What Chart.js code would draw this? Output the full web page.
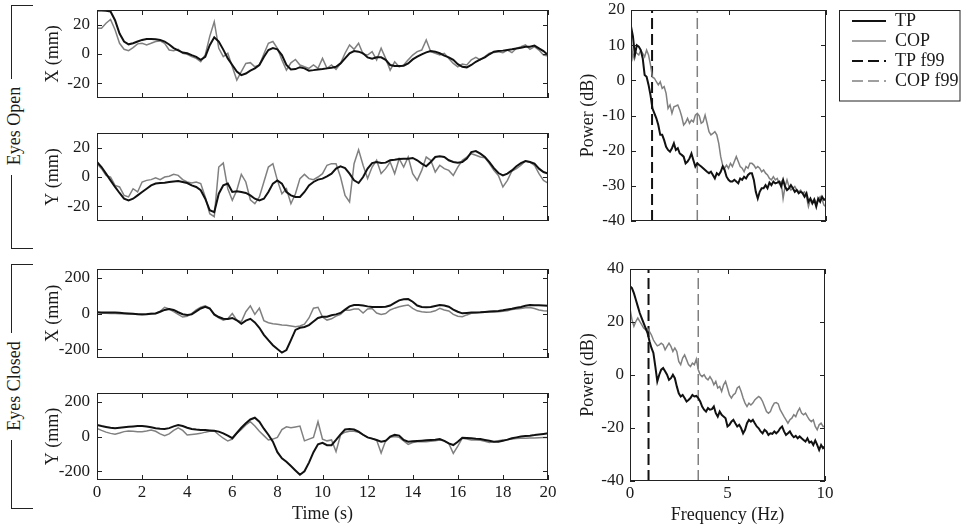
<!DOCTYPE html>
<html>
<head>
<meta charset="utf-8">
<script src="https://cdn.jsdelivr.net/npm/chart.js@4.4.1/dist/chart.umd.min.js"></script>
<style>
  body { margin: 0; background: #fff; width: 964px; height: 530px; overflow: hidden; position: relative;
         font-family: "Liberation Serif", "Times New Roman", serif; color: #1a1a1a; }
  canvas { position: absolute; }
  .br { position: absolute; border-left: 1.5px solid #222; width: 21px; }
  .lbl { position: absolute; width: 140px; height: 22px; line-height: 22px; text-align: center;
         font-size: 18px; transform: rotate(-90deg); white-space: nowrap; }
</style>
</head>
<body>
<div class="br" style="left:11px;top:5px;height:73px;border-top:1.5px solid #222"></div>
<div class="br" style="left:11px;top:175px;height:73px;border-bottom:1.5px solid #222"></div>
<div class="lbl" style="left:-56px;top:115px">Eyes Open</div>
<div class="br" style="left:11px;top:264px;height:68px;border-top:1.5px solid #222"></div>
<div class="br" style="left:11px;top:440px;height:68px;border-bottom:1.5px solid #222"></div>
<div class="lbl" style="left:-56px;top:375px">Eyes Closed</div>

<canvas id="xOpen" width="560" height="102" style="left:0;top:0"></canvas>
<canvas id="yOpen" width="560" height="102" style="left:0;top:123px"></canvas>
<canvas id="xClosed" width="560" height="103" style="left:0;top:259px"></canvas>
<canvas id="yClosed" width="560" height="144" style="left:0;top:383px"></canvas>
<canvas id="psdOpen" width="404" height="225" style="left:560px;top:0"></canvas>
<canvas id="psdClosed" width="404" height="269" style="left:560px;top:259px"></canvas>

<script>
// time axis (s), one sample every 0.2 s
const times = Array.from({ length: 101 }, (_, i) => +(i * 0.2).toFixed(1));
// frequency axis (Hz), one bin every 0.1 Hz
const freqs = Array.from({ length: 101 }, (_, i) => +(i * 0.1).toFixed(1));

const timeTicks = [0, 2, 4, 6, 8, 10, 12, 14, 16, 18, 20];
const mmTicksOpen = [-20, 0, 20];
const mmTicksClosed = [-200, 0, 200];
const freqTicks = [0, 5, 10];
const dbTicksOpen = [-40, -30, -20, -10, 0, 10, 20];
const dbTicksClosed = [-40, -20, 0, 20, 40];

// eyes open, X (mm)
const xOpenTp = [
  29.7, 29.7, 29.5, 29, 23, 14, 8.5, 6.6, 7.3, 8.5,
  9.6, 10.2, 10.3, 10, 9.6, 8.5, 6.5, 4, 2.5, 1,
  0.5, -0.8, -2, -4, -2, 6, 11.4, 8.5, 3, -3,
  -7.5, -12, -14.4, -13.3, -11.4, -9.8, -7.5, -2, 2.7, 4,
  3.2, -0.7, -7.5, -10.5, -10.3, -9, -9.8, -11.4, -11, -10.5,
  -10.3, -9.8, -9.4, -8.7, -6.4, -3, 0.5, 2, 1.6, 0.5,
  -2.3, -3.2, -2.3, -2.3, -4, -7.5, -8.2, -8.2, -8, -6.4,
  -3.7, -1.8, -0.2, 1.1, 2, 1.6, 0.5, -1.1, -2.3, -4,
  -6.9, -8.7, -9.1, -7.5, -5.3, -3.7, -2.3, -0.2, 1.6, 2,
  2.3, 2.8, 3.2, 3.8, 4.3, 5, 5, 5.7, 3.9, 2,
  -0.7];
const xOpenCop = [
  17.6, 17.6, 21, 23.5, 16.5, 7.3, 3.2, 2.3, 4.3, 6.9,
  7.3, 6.2, 7.3, 8.5, 8.9, 7.3, 2.7, 2.3, 3.2, 0.5,
  -0.2, -1.8, -3, -5.3, -0.7, 12, 22, 3.9, -1.8, 0.5,
  -8.7, -17.8, -12, -6.4, -5.9, -8.7, -7.5, 0, 7.3, 8.5,
  3.9, -4, -11, -6, -3.7, -7.5, -8.7, -9.8, -7.5, -9.8,
  -3, -9.8, -7.5, -10.5, -6.4, 0.5, 6.2, 3.2, 7.3, 0,
  -0.7, 1.6, -4, 3.9, -3, -11, -5.3, -8.7, -7.5, -4,
  -0.7, 1.6, 2.7, 9.6, 1.6, 0.5, -0.7, 0.5, -3, -6.4,
  -8.7, -6.9, -7.5, -4, -2.3, -4, -1.8, 0.5, 1.1, 1.6,
  0.9, 2.7, 0.9, 3.9, 5, 6.2, 3.2, 5, 2.7, -0.7,
  -1.4];

// eyes open, Y (mm)
const yOpenTp = [
  10.2, 6.8, 2.3, -2.3, -6.8, -10.9, -14.8, -15.9, -14.8, -12.5,
  -10.2, -8, -5.7, -4.5, -4.1, -3.9, -3.4, -3, -2.7, -3.4,
  -4.1, -5.7, -6.8, -9, -14.8, -22.7, -24, -11.4, -5.7, -4.5,
  -10.2, -9.8, -10.2, -10.9, -12.5, -14.8, -15.9, -14.8, -10.2, -4.5,
  -2.3, -4.5, -10.2, -12.5, -13.6, -13.6, -10.2, -5.7, -3.4, -1.8,
  -1.1, 0.5, 2.3, 5.7, 7.3, 6.1, 2.3, -2.3, -4.1, 0,
  5.7, 9.5, 10.2, 9.5, 9.8, 11.4, 11.8, 12.3, 12.5, 12.5,
  13, 11.4, 9.1, 7.3, 10.2, 13.6, 14.1, 13.6, 11.4, 10.2,
  9.8, 10.2, 12.5, 17, 17.7, 15.9, 13.6, 10.2, 6.1, 2.7,
  1.1, 2.3, 4.5, 7.3, 9.5, 10.9, 10.2, 9.1, 5.7, 3.4,
  2.3];
const yOpenCop = [
  9.1, 5.7, 1.1, 0, -5.7, -6.8, -12.5, -13.6, -8, -10.2,
  -3.4, -2.3, -1.8, -0.5, -1.8, 0, 0.5, 1.8, 1.1, -1.8,
  -3.4, -4.1, -3.4, -4.5, -13.6, -25, -27, 6.8, 9.5, -8,
  -15.9, -9, 1.8, -3.4, -15.5, -18.2, -13.6, -3.4, 6.8, 9.1,
  -2.3, -11.4, -8, -18.2, -11.4, -1.1, 1.8, -1.1, -1.8, 0,
  2.3, 8, 9.1, 9.1, 0, -12.5, -17, 9.1, 18.6, 8,
  -1.1, 6.8, 11.4, 2.3, 5.7, 10.2, 2.3, 12.5, 6.8, 13.6,
  2.3, -2.3, 4.5, 13.6, 11.4, 3.4, 8, 5.7, 4.5, 1.1,
  6.8, 11.4, 13.6, 15.9, 14.8, 13.6, 13.2, 9.1, 4.5, 1.1,
  -6.8, -2.3, 4.1, 5.7, 8, 10.9, 10.2, 8, 2.3, -2.3,
  -4.1];

// eyes closed, X (mm)
const xClosedTp = [
  7, 6, 6, 5, 5, 4, 2, 0, -2, -4,
  -5, -4, -2, 0, 10, 20, 25, 20, 7, -4,
  -8, -5, 12, 28, 38, 28, -5, -20, -29, -31,
  -25, -38, -58, -40, -30, -50, -80, -120, -150, -178,
  -200, -220, -205, -150, -92, -80, -76, -65, -45, -25,
  -18, -18, -10, -5, 3, 22, 40, 48, 48, 45,
  40, 37, 36, 36, 38, 45, 60, 74, 80, 81,
  66, 45, 37, 35, 36, 42, 48, 45, 38, 22,
  10, 1, 3, 5, 6, 7, 9, 11, 13, 14,
  18, 23, 27, 32, 37, 43, 48, 47, 46, 45,
  44];
const xClosedCop = [
  7, 2, 1, 0, 0, -1, -2, -3, -3, -2,
  -3, -2, 0, 0, 12, 35, 25, 10, -5, -20,
  -15, 0, 20, 35, 43, 30, -8, -25, -37, -30,
  0, -37, -46, 10, 43, -5, 30, -40, -52, -58,
  -60, -65, -66, -70, -74, -70, -60, -25, 30, 35,
  -20, -37, -30, -15, -5, 20, 18, 25, 25, 3,
  25, 28, 3, -5, 0, 20, 30, 38, 44, 48,
  29, 15, 10, 7, 8, 15, 29, 20, 14, -5,
  -15, -18, -8, 1, 4, 6, 7, 8, 9, 10,
  12, 16, 22, 25, 28, 32, 33, 28, 20, 15,
  14];

// eyes closed, Y (mm)
const yClosedTp = [
  66, 60, 55, 50, 47, 50, 53, 56, 58, 60,
  60, 58, 53, 48, 45, 43, 48, 58, 66, 60,
  50, 43, 40, 38, 37, 35, 33, 28, 18, 5,
  -10, 20, 50, 76, 98, 108, 85, 45, 10, -30,
  -90, -125, -145, -170, -195, -220, -200, -150, -90, -45,
  -36, -50, -50, -20, 12, 40, 43, 40, 28, 10,
  -5, -12, -20, -30, -25, 0, 10, 5, -20, -30,
  -28, -26, -24, -22, -20, -18, -15, -25, -40, -49,
  -30, -7, -8, -10, -13, -15, -20, -25, -30, -30,
  -25, -18, -10, -5, 0, 3, 5, 8, 12, 15,
  18];
const yClosedCop = [
  47, 35, 25, 18, 13, 20, 28, 32, 30, 28,
  28, 32, 37, 30, 15, 5, 15, 35, 50, 35,
  9, 12, 15, 18, 25, 30, 32, 10, -10, -26,
  -15, 18, 40, 66, 85, 60, 30, 5, -20, -15,
  -5, 40, 56, 50, 55, 60, -25, -15, -5, 85,
  -15, -25, -20, -87, 9, 25, 30, 30, 25, 10,
  -5, -12, -20, -95, -25, -5, 0, -5, -25, -45,
  -35, -30, -30, -30, -28, -25, -20, -25, -40, -97,
  -55, -10, -15, -20, -20, -22, -28, -34, -30, -25,
  -20, -18, -15, -12, -10, -10, -9, -8, -7, -6,
  -6];

// power spectra (dB)
const tpPsdOpen = [
  15.3, 12.5, 7.2, 10, 9.6, 8.6, 6.3, 1.5, 1, -1.3,
  -4.2, -8, -9.4, -10.8, -12.7, -15.5, -15.5, -17, -18.9, -19.8,
  -20.3, -19.3, -17.9, -19.8, -19.3, -20.8, -21.2, -21.7, -23.6, -23.1,
  -22.2, -20.8, -22.7, -24.5, -23.6, -24.1, -24.5, -25, -25.5, -26,
  -26.4, -26, -26.9, -27.9, -26.4, -26.9, -26, -24.5, -25.5, -27.4,
  -28.3, -28.8, -28.8, -28.3, -28.8, -29.3, -27.9, -28.3, -27.4, -27.9,
  -26.9, -26.4, -26.4, -28.3, -31.7, -33.6, -31.7, -30.7, -30.7, -29.8,
  -30.7, -29.1, -29.8, -28.8, -29.3, -29.1, -28.8, -30.2, -28.3, -30.2,
  -31.2, -30.7, -29.8, -30.7, -31.7, -31.2, -32.1, -31.7, -32.1, -33.1,
  -32.1, -34.5, -33.6, -35, -34, -35.9, -33.6, -34.5, -33.1, -34,
  -33.6];
const copPsdOpen = [
  11.5, 6.3, 8.2, 7.7, 7.2, 8.6, 7.7, 6.7, 8.6, 7.2,
  4.4, 0.9, 0.6, -0.4, -1.3, -0.4, -2.3, -1.8, -3.7, -8,
  -7, -9.4, -7.5, -7.3, -7, -8.4, -10.3, -12.7, -12, -10.8,
  -12.2, -11.3, -11.8, -9.9, -9.4, -10.1, -12.2, -11.8, -9.9, -12.2,
  -14.6, -15.5, -15.1, -14.6, -15.5, -17.9, -21.7, -24.1, -25, -24.1,
  -25, -23.6, -24.5, -23.1, -21.7, -23.1, -24.5, -25, -26, -24.5,
  -25, -23.6, -23.6, -24.1, -25, -24.5, -25, -26, -25.5, -26.4,
  -26.9, -27.9, -28.3, -27.4, -28.3, -27.9, -29.3, -28.8, -33.6, -30.2,
  -28.3, -30.2, -31.2, -30.7, -30.2, -31.2, -31.7, -31.2, -32.1, -31.7,
  -33.1, -35.9, -34, -34.5, -33.6, -35, -34, -33.1, -34, -35.5,
  -35.9];
const tpPsdClosed = [
  33.5, 32.8, 30.9, 28.4, 25.9, 23.4, 21.5, 19.6, 17.7, 15.8,
  12.7, 10.2, 8.3, 3.2, -2.4, 0.1, 2, 2.6, 1.4, 0.1,
  -1.8, -1.2, 0.1, -1.2, -4.3, -6.9, -8.1, -7.5, -8.7, -10,
  -9.4, -8.7, -7.5, -8.1, -7.9, -8.7, -10, -11.9, -13.1, -13.8,
  -12.5, -13.1, -12.9, -11.9, -14.4, -15.7, -13.8, -15, -15.7, -16.3,
  -19.4, -18.8, -17.6, -16.9, -18.2, -19.4, -18.8, -20.1, -22, -20.7,
  -18.2, -16.9, -17.6, -16.9, -18.2, -19.4, -20.1, -21.3, -22, -20.7,
  -21.3, -22.6, -22, -22.2, -21.3, -22, -21.3, -20.1, -19.4, -21.3,
  -22.6, -22, -21.3, -22.6, -23.5, -23, -23.9, -23.2, -23.9, -24.5,
  -25.1, -23.9, -25.5, -25.1, -26.4, -24.7, -26.4, -28.3, -26.4, -27.6,
  -27];
const copPsdClosed = [
  25, 20.9, 18.4, 20.2, 21.5, 20.2, 19, 17.7, 17.1, 17.7,
  16.4, 15.1, 13.2, 12, 11, 11.4, 12, 11.4, 9.5, 10.8,
  12, 10.8, 8.9, 10.2, 8.9, 5.1, 3.9, 6.4, 7.6, 5.8,
  3.9, 3.2, 4.5, 3.9, 6, 2, 0.1, -0.6, 0.1, -1.2,
  -1.8, -0.6, -1.8, -3.7, -2.4, -4.9, -4.3, -6.2, -3.7, -2.4,
  -4.9, -7.5, -8.7, -7.5, -6.9, -4.9, -4.3, -6.2, -8.7, -10.6,
  -11.9, -10.6, -11.3, -10.6, -9.4, -8.7, -8.1, -8.7, -10, -11.9,
  -13.8, -14.4, -13.8, -11.9, -10.6, -10.4, -10.9, -13.1, -14.4, -15.7,
  -16.9, -18.2, -16.9, -16.3, -15, -15.7, -13.8, -12.5, -14.4, -15,
  -14.4, -15.7, -16.9, -17.6, -16.9, -19.4, -20.7, -18.8, -18.2, -19.4,
  -19.4];

// 99% power frequencies (Hz)
const f99Open = { tp: 1.08, cop: 3.4 };
const f99Closed = { tp: 0.95, cop: 3.5 };

Chart.defaults.font.family = '"Liberation Serif", "Times New Roman", serif';
Chart.defaults.color = '#1a1a1a';
Chart.defaults.animation = false;

const BLACK = '#111111';
const GREY = '#808080';

// box around the plot with inward ticks on all four sides, plus a frame for the legend
const framePlugin = {
  id: 'frame',
  afterDatasetsDraw(chart) {
    const { ctx, chartArea: a, scales } = chart;
    const len = 5;
    ctx.save();
    ctx.strokeStyle = '#222';
    ctx.lineWidth = 1;
    ctx.beginPath();
    scales.x.ticks.forEach(t => {
      const px = Math.round(scales.x.getPixelForValue(t.value)) + 0.5;
      ctx.moveTo(px, a.bottom); ctx.lineTo(px, a.bottom - len);
      ctx.moveTo(px, a.top); ctx.lineTo(px, a.top + len);
    });
    scales.y.ticks.forEach(t => {
      const py = Math.round(scales.y.getPixelForValue(t.value)) + 0.5;
      ctx.moveTo(a.left, py); ctx.lineTo(a.left + len, py);
      ctx.moveTo(a.right, py); ctx.lineTo(a.right - len, py);
    });
    ctx.stroke();
    ctx.strokeRect(Math.round(a.left) + 0.5, Math.round(a.top) + 0.5,
                   Math.round(a.width) - 1, Math.round(a.height) - 1);
    ctx.restore();
  },
  afterDraw(chart) {
    const lg = chart.legend;
    if (!lg || !chart.options.plugins.legend.display) return;
    const last = lg.legendHitBoxes[lg.legendHitBoxes.length - 1];
    const { ctx } = chart;
    ctx.save();
    ctx.strokeStyle = '#222';
    ctx.lineWidth = 1;
    const left = Math.round(lg.left - 11) + 0.5;
    const top = Math.round(lg.top) + 0.5;
    ctx.strokeRect(left, top, Math.round(lg.right) - left, Math.round(last.top + last.height + 11) - top);
    ctx.restore();
  }
};

function pts(xs, ys) {
  return ys.map((v, i) => ({ x: xs[i], y: v }));
}

function vline(f, min, max) {
  return [{ x: f, y: min }, { x: f, y: max }];
}

// fixed axis sizes, no extra room for overhanging end labels
function fixSize(prop, size) {
  return s => {
    s[prop] = size;
    s.paddingTop = 0; s.paddingBottom = 0; s.paddingLeft = 0; s.paddingRight = 0;
  };
}

function panel(id, o) {
  return new Chart(document.getElementById(id), {
    type: 'line',
    data: { datasets: o.datasets },
    options: {
      responsive: false,
      maintainAspectRatio: false,
      layout: { padding: o.pad },
      elements: { point: { radius: 0 }, line: { tension: 0 } },
      plugins: {
        legend: o.legend || { display: false },
        tooltip: { enabled: false }
      },
      scales: Object.assign({
        x: {
          type: 'linear', min: o.xMin, max: o.xMax,
          afterBuildTicks: s => { s.ticks = o.xTicks.map(v => ({ value: v })); },
          afterFit: fixSize('height', o.xHeight),
          grid: { display: false, drawTicks: false },
          border: { display: false },
          ticks: { display: o.showX, padding: 2, maxRotation: 0, autoSkip: false, font: { size: 17 } },
          title: { display: !!o.xTitle, text: o.xTitle, padding: 0, font: { size: 18 } }
        },
        y: {
          type: 'linear', min: o.yMin, max: o.yMax,
          afterBuildTicks: s => { s.ticks = o.yTicks.map(v => ({ value: v })); },
          afterFit: fixSize('width', o.yWidth),
          grid: { display: false, drawTicks: false },
          border: { display: false },
          ticks: { padding: o.yPad, autoSkip: false, font: { size: 17 } },
          title: { display: true, text: o.yTitle, padding: { top: o.yTitlePad, bottom: 0 }, font: { size: 18 } }
        }
      }, o.extraScales || {})
    },
    plugins: [framePlugin]
  });
}

function tsSets(tp, cop) {
  return [
    { label: 'TP', data: pts(times, tp), borderColor: BLACK, borderWidth: 2 },
    { label: 'COP', data: pts(times, cop), borderColor: GREY, borderWidth: 1.5 }
  ];
}

function psdSets(tp, cop, f99, min, max) {
  return [
    { label: 'TP', data: pts(freqs, tp), borderColor: BLACK, borderWidth: 2 },
    { label: 'COP', data: pts(freqs, cop), borderColor: GREY, borderWidth: 1.5 },
    { label: 'TP f99', data: vline(f99.tp, min, max), borderColor: BLACK, borderWidth: 2, borderDash: [11, 5] },
    { label: 'COP f99', data: vline(f99.cop, min, max), borderColor: GREY, borderWidth: 1.5, borderDash: [11, 5] }
  ];
}

const tsBase = { xMin: 0, xMax: 20, xTicks: timeTicks, yWidth: 97, yPad: 7, yTitlePad: 42 };

panel('xOpen', Object.assign({}, tsBase, {
  datasets: tsSets(xOpenTp, xOpenCop), yMin: -30, yMax: 30, yTicks: mmTicksOpen,
  yTitle: 'X (mm)', showX: false, xHeight: 0, pad: { top: 10, right: 12, bottom: 4, left: 0 }
}));
panel('yOpen', Object.assign({}, tsBase, {
  datasets: tsSets(yOpenTp, yOpenCop), yMin: -30, yMax: 30, yTicks: mmTicksOpen,
  yTitle: 'Y (mm)', showX: false, xHeight: 0, pad: { top: 10, right: 12, bottom: 4, left: 0 }
}));
panel('xClosed', Object.assign({}, tsBase, {
  datasets: tsSets(xClosedTp, xClosedCop), yMin: -250, yMax: 250, yTicks: mmTicksClosed,
  yTitle: 'X (mm)', showX: false, xHeight: 0, pad: { top: 10, right: 12, bottom: 4, left: 0 }
}));
panel('yClosed', Object.assign({}, tsBase, {
  datasets: tsSets(yClosedTp, yClosedCop), yMin: -250, yMax: 250, yTicks: mmTicksClosed,
  yTitle: 'Y (mm)', showX: true, xTitle: 'Time (s)', xHeight: 45,
  pad: { top: 10, right: 12, bottom: 2, left: 0 }
}));

panel('psdOpen', {
  datasets: psdSets(tpPsdOpen, copPsdOpen, f99Open, -40, 20),
  xMin: 0, xMax: 10, xTicks: freqTicks, showX: false, xHeight: 0,
  yMin: -40, yMax: 20, yTicks: dbTicksOpen, yWidth: 71, yPad: 6, yTitlePad: 17,
  yTitle: 'Power (dB)', pad: { top: 10, right: 4, bottom: 4, left: 0 },
  extraScales: {
    y2: {
      position: 'right', min: -40, max: 20,
      afterFit: fixSize('width', 24),
      grid: { display: false, drawTicks: false }, border: { display: false },
      ticks: { display: false }
    }
  },
  legend: {
    display: true, position: 'right', align: 'start', maxWidth: 110,
    labels: {
      usePointStyle: true, pointStyleWidth: 34, padding: 2, color: '#1a1a1a',
      font: { size: 18 },
      generateLabels: chart => chart.data.datasets.map((d, i) => ({
        text: d.label, datasetIndex: i, hidden: false, pointStyle: 'line',
        strokeStyle: d.borderColor, fillStyle: d.borderColor, lineWidth: d.borderWidth,
        lineDash: d.borderDash || [], fontColor: '#1a1a1a'
      }))
    }
  }
});

panel('psdClosed', {
  datasets: psdSets(tpPsdClosed, copPsdClosed, f99Closed, -40, 40),
  xMin: 0, xMax: 10, xTicks: freqTicks, showX: true, xTitle: 'Frequency (Hz)', xHeight: 45,
  yMin: -40, yMax: 40, yTicks: dbTicksClosed, yWidth: 70, yPad: 6, yTitlePad: 17,
  yTitle: 'Power (dB)', pad: { top: 10, right: 139, bottom: 2, left: 0 }
});
</script>
</body>
</html>
